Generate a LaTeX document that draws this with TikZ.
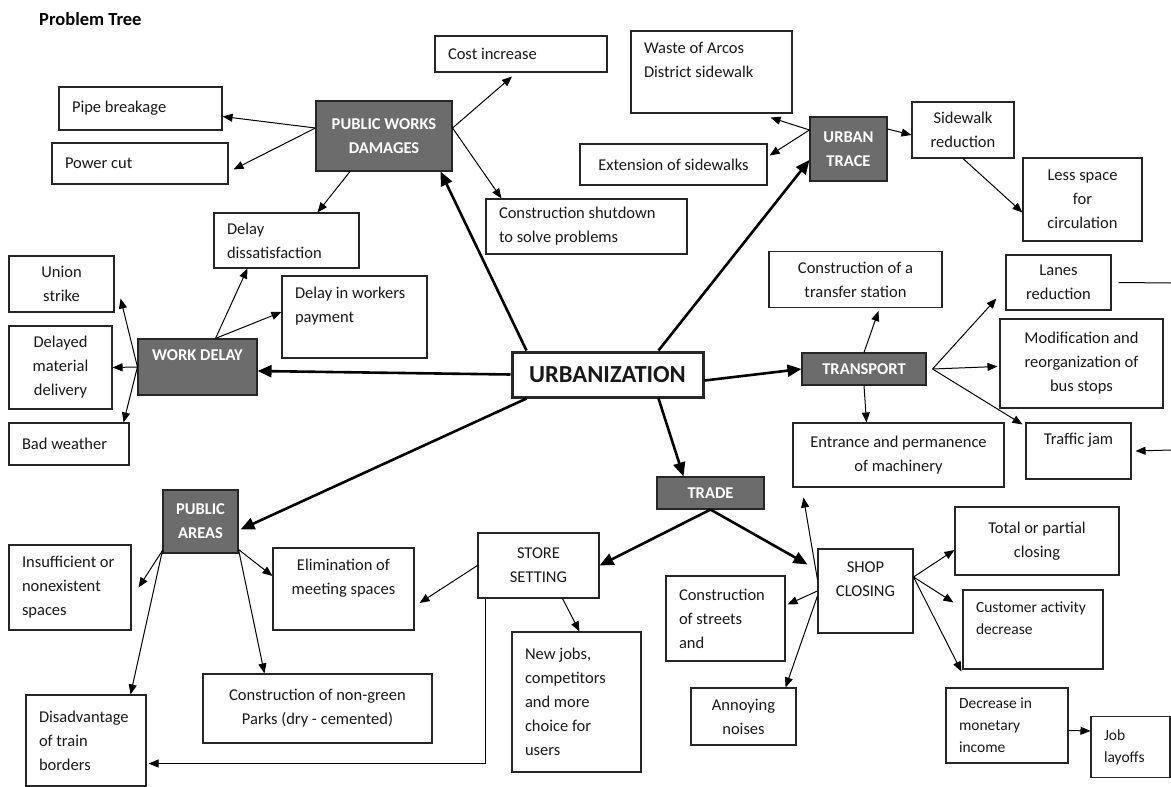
\documentclass[tikz,border=0pt]{standalone}
\usepackage{fontspec}
\setmainfont{Carlito}
\usetikzlibrary{arrows.meta}
\definecolor{boxgray}{RGB}{108,108,108}

\begin{document}
\begin{tikzpicture}[x=1pt,y=-1pt,>={Triangle[length=10pt,width=8pt]},
    font=\fontsize{16.5}{24}\selectfont,
    box/.style={draw=black!85,line width=1.1pt,inner ysep=4pt,text=black!90},
    cbox/.style={box,align=center},
    lbox/.style={box,align=flush left,inner xsep=13pt,text width=#1},
    dark/.style={box,fill=boxgray,text=white,align=center,font=\fontsize{16.5}{24}\selectfont\bfseries},
    small/.style={font=\fontsize{15.5}{22}\selectfont},
    link/.style={->,line width=1pt},
    mainlink/.style={-{Triangle[length=14pt,width=12pt]},line width=2.6pt}]
  \useasboundingbox (0,0) rectangle (1171,787);
  \node[anchor=base west,inner sep=0pt,font=\fontsize{18.5}{22}\selectfont\bfseries] (title) at (39,25) {Problem Tree};

  % centre and main branches
  \node[box,line width=3pt,minimum width=191pt,minimum height=45pt,font=\fontsize{24.5}{28}\selectfont\bfseries] (urb) at (607.5,374.5) {URBANIZATION};
  \node[dark,minimum width=136pt,minimum height=70pt] (pwd) at (384,136) {PUBLIC WORKS\\DAMAGES};
  \node[dark,minimum width=77pt,minimum height=64pt] (utrace) at (848.5,149) {URBAN\\TRACE};
  \node[dark,minimum width=119pt,minimum height=56pt] (wdelay) at (197.5,367) {WORK DELAY\\~};
  \node[dark,minimum width=124pt,minimum height=32pt] (transport) at (864,369) {TRANSPORT};
  \node[dark,minimum width=107pt,minimum height=32pt] (trade) at (710.5,493) {TRADE};
  \node[dark,minimum width=75pt,minimum height=63pt] (pareas) at (200.5,521.5) {PUBLIC\\AREAS};

  % public works damages
  \node[lbox=137pt,minimum height=43pt] (pipe) at (140.5,108.5) {Pipe breakage};
  \node[lbox=150pt,minimum height=41pt] (power) at (140,163.5) {Power cut};
  \node[lbox=146pt,minimum height=36pt] (cost) at (521,54) {Cost increase};
  \node[lbox=175pt,minimum height=55pt] (shutdown) at (586.5,226.5) {Construction shutdown\\to solve problems};
  \node[lbox=119pt,minimum height=55pt] (dissat) at (286.5,240.5) {Delay\\dissatisfaction};

  % urban trace
  \node[lbox=135pt,minimum height=82pt] (waste) at (711.5,72) {Waste of Arcos\\District sidewalk\\~};
  \node[cbox,minimum width=187pt,minimum height=41pt] (extension) at (673.5,164.5) {Extension of sidewalks};
  \node[cbox,minimum width=102pt,minimum height=56pt] (sidered) at (963,130) {Sidewalk\\reduction};
  \node[cbox,minimum width=119pt,minimum height=83pt] (lessspace) at (1082.5,199.5) {Less space\\for\\circulation};

  % work delay
  \node[cbox,minimum width=105pt,minimum height=56pt] (union) at (61.5,284) {Union\\strike};
  \node[lbox=119pt,minimum height=82pt] (payment) at (354.5,317) {Delay in workers\\payment\\~};
  \node[cbox,minimum width=103pt,minimum height=83pt] (delmat) at (60.5,367.5) {Delayed\\material\\delivery};
  \node[lbox=94pt,minimum height=42pt] (badw) at (69,444) {Bad weather};

  % transport
  \node[cbox,minimum width=173pt,minimum height=56pt] (transfer) at (855.5,279.5) {Construction of a\\transfer station};
  \node[cbox,minimum width=105pt,minimum height=55pt] (lanes) at (1058.5,282.5) {Lanes\\reduction};
  \node[cbox,minimum width=163pt,minimum height=89pt] (busstops) at (1081.5,363.5) {Modification and\\reorganization of\\bus stops};
  \node[cbox,minimum width=211pt,minimum height=64pt] (machinery) at (898.5,455) {Entrance and permanence\\of machinery};
  \node[cbox,minimum width=105pt,minimum height=56pt] (traffic) at (1078.5,451) {Traffic jam\\~};
  \coordinate (lanesout) at (1171,283);
  \coordinate (trafficin) at (1171,450);

  % public areas
  \node[lbox=96pt,minimum height=85pt] (insuff) at (70,587.5) {Insufficient or\\nonexistent\\spaces};
  \node[cbox,minimum width=141pt,minimum height=82pt] (elim) at (343.5,589) {Elimination of\\meeting spaces\\~};
  \node[cbox,minimum width=229pt,minimum height=69pt] (parks) at (317.5,708.5) {Construction of non-green\\Parks (dry - cemented)};
  \node[lbox=94pt,minimum height=91pt] (disadv) at (86,740.5) {Disadvantage\\of train\\borders};

  % trade
  \node[cbox,minimum width=121pt,minimum height=65pt] (store) at (538.5,565.5) {STORE\\SETTING};
  \node[lbox=103pt,minimum height=140pt] (newjobs) at (576.5,702) {New jobs,\\competitors\\and more\\choice for\\users};
  \node[cbox,minimum width=95pt,minimum height=84pt] (shopc) at (865.5,591) {SHOP\\CLOSING\\~};
  \node[lbox=93pt,minimum height=85pt] (streets) at (725.5,618.5) {Construction\\of streets\\and};
  \node[cbox,minimum width=105pt,minimum height=57pt] (noises) at (743.5,716.5) {Annoying\\noises};
  \node[cbox,minimum width=164pt,minimum height=68pt] (totalc) at (1037,541) {Total or partial\\closing};
  \node[lbox=114pt,small,minimum height=79pt] (custact) at (1033,629.5) {Customer activity\\decrease\\~};
  \node[lbox=96pt,small,minimum height=75pt] (monetary) at (1007,725.5) {Decrease in\\monetary\\income};
  \node[lbox=53pt,small,minimum height=61pt] (layoffs) at (1130.5,747) {Job\\layoffs};

  % thick connectors
  \draw[mainlink] ([xshift=16pt]urb.north west) -- ([xshift=-12pt]pwd.south east);
  \draw[mainlink] ([xshift=-46pt]urb.north east) -- ([yshift=-11pt]utrace.west);
  \draw[mainlink] (urb.west) -- ([yshift=-4pt]wdelay.east);
  \draw[mainlink] ([yshift=-6pt]urb.east) -- (transport.west);
  \draw[mainlink] ([xshift=-46pt]urb.south east) -- ([xshift=-27pt]trade.north);
  \draw[mainlink] ([xshift=16pt]urb.south west) -- ([xshift=2pt,yshift=-8pt]pareas.east);
  \draw[mainlink] (trade.south) -- (store.east);
  \draw[mainlink] (trade.south) -- ([xshift=-10pt,yshift=-16pt]shopc.north west);

  % thin connectors
  \draw[link] ([yshift=8pt]pwd.west) -- ([yshift=-8pt]pipe.east);
  \draw[link] ([yshift=8pt]pwd.west) -- ([xshift=5pt,yshift=-6pt]power.east);
  \draw[link] ([xshift=-34pt]pwd.south) -- ([xshift=31pt]dissat.north);
  \draw[link] ([yshift=8pt]pwd.east) -- ([xshift=-9pt,yshift=-4pt]cost.south);
  \draw[link] ([yshift=8pt]pwd.east) -- ([xshift=16pt]shutdown.north west);

  \draw[link] ([yshift=19pt]utrace.west) -- ([xshift=-22pt,yshift=-4pt]waste.south east);
  \draw[link] ([yshift=19pt]utrace.west) -- ([xshift=2pt,yshift=9pt]extension.east);
  \draw[link] ([yshift=20pt]utrace.east) -- ([yshift=-5pt]sidered.west);
  \draw[link] (sidered.south) -- ([yshift=-13pt]lessspace.west);

  \draw[link] ([xshift=18pt]wdelay.north) -- ([xshift=34pt]dissat.south west);
  \draw[link] ([xshift=18pt]wdelay.north) -- ([yshift=5pt]payment.west);
  \draw[link] (wdelay.west) -- ([xshift=6pt,yshift=14pt]union.south east);
  \draw[link] (wdelay.west) -- (delmat.east);
  \draw[link] (wdelay.west) -- ([xshift=-6pt]badw.north east);

  \draw[link] (transport.north) -- ([xshift=23pt,yshift=-3pt]transfer.south);
  \draw[link] (transport.south) -- ([xshift=-32pt]machinery.north);
  \draw[link] ([xshift=6pt]transport.east) -- ([xshift=-9pt,yshift=-16pt]lanes.west);
  \draw[link] ([xshift=6pt]transport.east) -- ([xshift=-2pt,yshift=-3pt]busstops.west);
  \draw[link] ([xshift=6pt]transport.east) -- ([xshift=-3pt,yshift=-2pt]traffic.north west);
  \draw[line width=1pt] ([xshift=7pt]lanes.east) -- (lanesout);
  \draw[link] (trafficin) -- ([xshift=4pt]traffic.east);

  \draw[link] ([yshift=3pt]pareas.south west) -- ([xshift=7pt]insuff.east);
  \draw[link] ([yshift=3pt]pareas.south west) -- ([xshift=-16pt]disadv.north east);
  \draw[link] ([yshift=4pt]pareas.south east) -- ([yshift=13pt]elim.west);
  \draw[link] ([yshift=4pt]pareas.south east) -- ([xshift=62pt]parks.north west);

  \draw[link] (store.west) -- ([xshift=5pt,yshift=-14pt]elim.east);
  \draw[link] ([xshift=24pt]store.south) -- ([xshift=3pt]newjobs.north);
  \draw[link] ([xshift=8pt]store.south west) |- ([xshift=2pt,yshift=-23pt]disadv.east);

  \draw[link] ([yshift=-31pt]shopc.north west) -- ([xshift=11pt,yshift=-10pt]machinery.south west);
  \draw[link] (shopc.west) -- ([xshift=2pt,yshift=14pt]streets.east);
  \draw[link] ([yshift=-5pt]shopc.west) -- ([xshift=-11pt]noises.north east);
  \draw[link] ([yshift=14pt]shopc.east) -- ([yshift=-9pt]totalc.west);
  \draw[link] ([yshift=14pt]shopc.east) -- ([xshift=-9pt,yshift=-13pt]custact.north west);
  \draw[link] ([yshift=14pt]shopc.east) -- ([xshift=-1pt,yshift=-2pt]custact.south west);
  \draw[link] ([yshift=-5pt]monetary.east) -- ([yshift=16pt]layoffs.west);
\end{tikzpicture}
\end{document}
